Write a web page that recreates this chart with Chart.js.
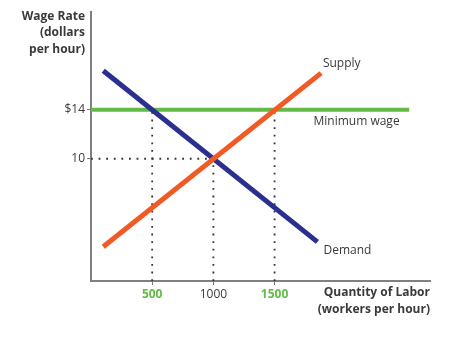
<!DOCTYPE html>
<html>
<head>
<meta charset="utf-8">
<script src="https://cdn.jsdelivr.net/npm/chart.js@4.4.1/dist/chart.umd.min.js"></script>
<style>
  body { margin: 0; background: #fff; }
  canvas { display: block; }
</style>
</head>
<body>
<canvas id="labor" width="450" height="343"></canvas>
<script>
// labor market with a price floor
const supplyQty = [100, 1880];
const supplyWage = [2.8, 17];
const demandQty = [100, 1850];
const demandWage = [17.2, 3.2];
const floorQty = [0, 2600];
const floorWage = [14, 14];

const xTicks = [500, 1000, 1500];
const xTickGreen = [500, 1500];
const yTicks = [10, 14];
const yTickLabels = ['10', '$14'];

// dotted guide lines: [x1, y1, x2, y2]
const guides = [
    [0, 10, 1000, 10],
    [500, 0, 500, 14],
    [1000, 0, 1000, 10],
    [1500, 0, 1500, 14]
];

const ORANGE = '#f15a24';
const NAVY = '#2b2f8f';
const GREEN = '#62bb46';
const TEXT = '#3a3a3a';

function pts(xs, ys) {
    return xs.map((x, i) => ({x: x, y: ys[i]}));
}

let datasets = [
    {label: 'Demand', data: pts(demandQty, demandWage), borderColor: NAVY, borderWidth: 5, order: 1},
    {label: 'Supply', data: pts(supplyQty, supplyWage), borderColor: ORANGE, borderWidth: 5, order: 0},
    {label: 'Minimum wage', data: pts(floorQty, floorWage), borderColor: GREEN, borderWidth: 4, order: 2}
];
guides.forEach(g => {
    datasets.push({
        data: [{x: g[0], y: g[1]}, {x: g[2], y: g[3]}],
        borderColor: '#333',
        borderWidth: 1.8,
        borderDash: [1.8, 5.8],
        borderCapStyle: 'butt',
        order: 5
    });
});

// text next to the curves, plus the axis titles
const curveLabels = [
    {text: 'Supply', x: 1895, y: 17.8},
    {text: 'Minimum wage', x: 1818, y: 13.05},
    {text: 'Demand', x: 1900, y: 2.45}
];

const textPlugin = {
    id: 'textPlugin',
    afterDraw(chart) {
        const ctx = chart.ctx;
        const xs = chart.scales.x, ys = chart.scales.y;
        ctx.save();
        ctx.fillStyle = TEXT;
        ctx.textBaseline = 'middle';
        ctx.font = '12px "Open Sans", sans-serif';
        ctx.textAlign = 'left';
        curveLabels.forEach(l => {
            ctx.fillText(l.text, xs.getPixelForValue(l.x), ys.getPixelForValue(l.y));
        });

        ctx.font = 'bold 12px "Open Sans", sans-serif';
        ctx.textAlign = 'right';
        ctx.fillText('Wage Rate', 85, 17);
        ctx.fillText('(dollars', 85, 33);
        ctx.fillText('per hour)', 85, 50);
        ctx.fillText('Quantity of Labor', 430, 293);
        ctx.fillText('(workers per hour)', 430, 310);
        ctx.restore();
    }
};

new Chart(document.getElementById('labor').getContext('2d'), {
    type: 'line',
    data: {datasets: datasets},
    options: {
        responsive: false,
        animation: false,
        layout: {padding: {left: 0, top: 12, right: 20, bottom: 0}},
        elements: {point: {radius: 0}, line: {tension: 0}},
        plugins: {legend: {display: false}, tooltip: {enabled: false}},
        scales: {
            x: {
                type: 'linear',
                min: 0,
                max: 2770,
                afterFit: s => { s.height = 62; },
                afterBuildTicks: s => { s.ticks = xTicks.map(v => ({value: v})); },
                grid: {display: true, drawOnChartArea: false, tickLength: 4, color: '#777'},
                border: {display: true, color: '#808080', width: 2},
                ticks: {
                    padding: 2,
                    maxRotation: 0,
                    font: c => ({
                        family: '"Open Sans", sans-serif',
                        size: 12,
                        weight: (c.tick && xTickGreen.includes(c.tick.value)) ? 'bold' : 'normal'
                    }),
                    color: c => (c.tick && xTickGreen.includes(c.tick.value)) ? GREEN : TEXT,
                    callback: v => String(v)
                }
            },
            y: {
                type: 'linear',
                min: 0,
                max: 22,
                afterFit: s => { s.width = 91; },
                afterBuildTicks: s => { s.ticks = yTicks.map(v => ({value: v})); },
                grid: {display: true, drawOnChartArea: false, tickLength: 4, color: '#777'},
                border: {display: true, color: '#808080', width: 2},
                ticks: {
                    padding: 2,
                    font: {family: '"Open Sans", sans-serif', size: 12},
                    color: TEXT,
                    callback: v => yTickLabels[yTicks.indexOf(v)]
                }
            }
        }
    },
    plugins: [textPlugin]
});
</script>
</body>
</html>
